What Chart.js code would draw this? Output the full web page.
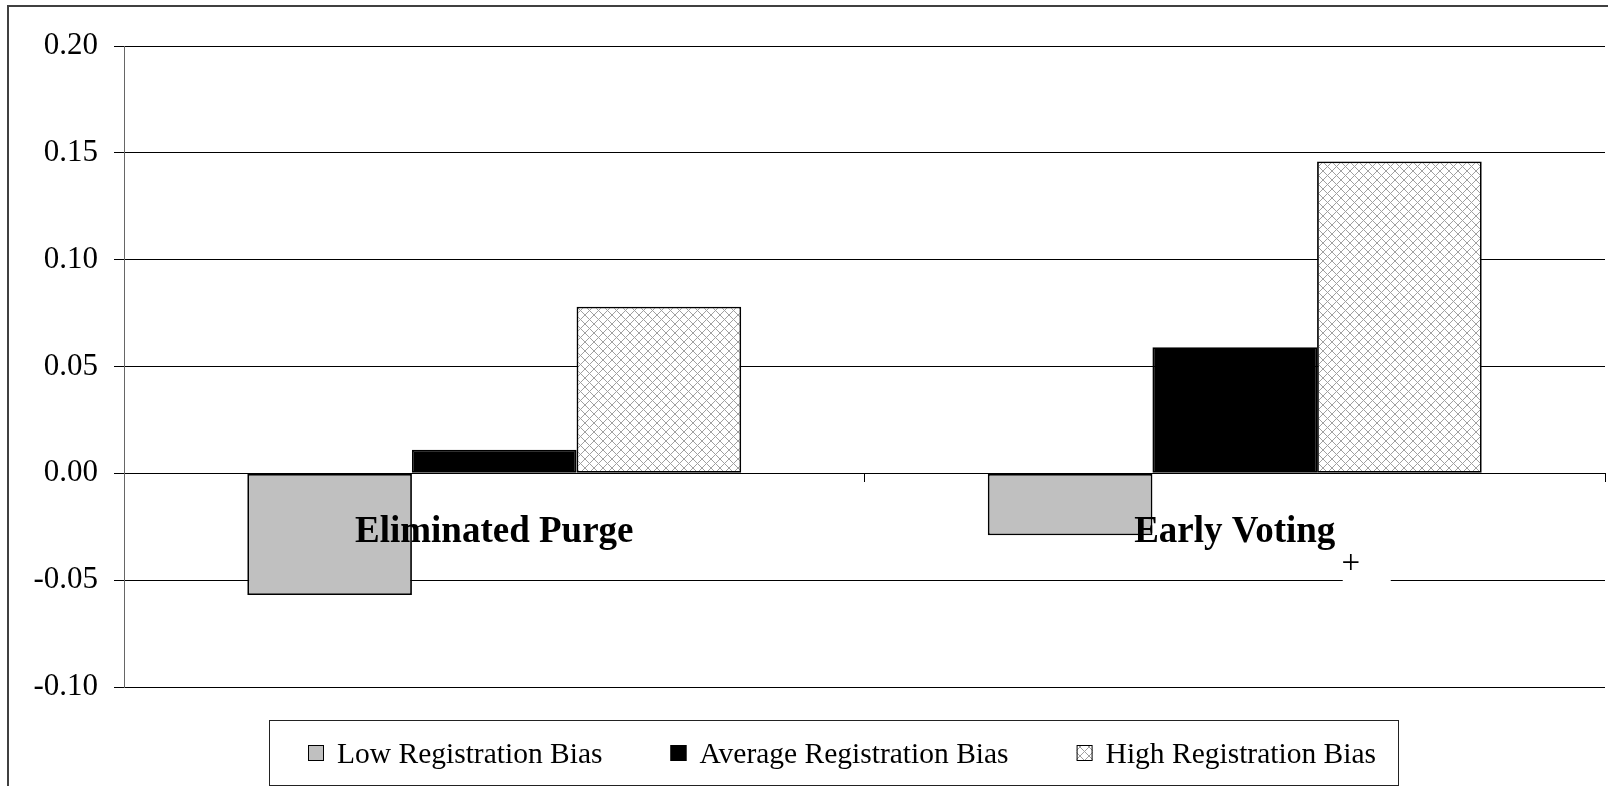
<!DOCTYPE html>
<html>
<head>
<meta charset="utf-8">
<title>Registration Bias</title>
<script src="https://cdn.jsdelivr.net/npm/chart.js@4.4.0/dist/chart.umd.min.js"></script>
<style>
  html, body { margin: 0; padding: 0; background: #fff; }
  #grafico { display: block; }
</style>
</head>
<body>
<canvas id="grafico" width="1608" height="786"></canvas>
<script>
// dados
const categorias = ['Eliminated Purge', 'Early Voting']
const nomesSeries = ['Low Registration Bias', 'Average Registration Bias', 'High Registration Bias']
const valoresBaixo = [-0.057, -0.029]
const valoresMedio = [0.011, 0.059]
const valoresAlto = [0.078, 0.146]
const ticksY = [-0.10, -0.05, 0.00, 0.05, 0.10, 0.15, 0.20]

const fonte = "'Liberation Serif', 'Times New Roman', serif"

// padrao quadriculado para a serie "High"
function criaHachura() {
  const c = document.createElement('canvas')
  c.width = 9
  c.height = 9
  const g = c.getContext('2d')
  g.fillStyle = '#fff'
  g.fillRect(0, 0, 9, 9)
  g.strokeStyle = '#a0a0a0'
  g.lineWidth = 1
  g.beginPath()
  g.moveTo(0, 0); g.lineTo(9, 9)
  g.moveTo(9, 0); g.lineTo(0, 9)
  g.stroke()
  return g.createPattern(c, 'repeat')
}
const hachura = criaHachura()

const cores = ['#c0c0c0', '#000000', hachura]

// moldura externa, legenda com caixa e o "+" solto perto de -0.05
const extras = {
  id: 'extras',
  beforeDraw(chart) {
    const ctx = chart.ctx
    ctx.save()
    ctx.strokeStyle = '#404040'
    ctx.lineWidth = 2
    ctx.strokeRect(8, 6, 1700, 900)
    ctx.restore()
  },
  afterDraw(chart) {
    const ctx = chart.ctx
    const x = chart.scales.x
    const y = chart.scales.y
    ctx.save()

    // buraco na linha de -0.05 e o sinal de +
    const yLinha = y.getPixelForValue(-0.05)
    const xBuraco = x.getPixelForValue(1) + 108
    ctx.fillStyle = '#fff'
    ctx.fillRect(xBuraco, yLinha - 2, 48, 4)
    ctx.fillStyle = '#000'
    ctx.font = '33px ' + fonte
    ctx.textAlign = 'center'
    ctx.textBaseline = 'middle'
    ctx.fillText('+', xBuraco + 8, yLinha - 16)

    // legenda
    ctx.strokeStyle = '#222'
    ctx.lineWidth = 1
    ctx.strokeRect(269.5, 720.5, 1129, 65)
    ctx.font = '29.5px ' + fonte
    ctx.textAlign = 'left'
    ctx.textBaseline = 'alphabetic'
    let px = 308
    chart.data.datasets.forEach((ds) => {
      ctx.fillStyle = ds.backgroundColor
      ctx.fillRect(px, 745, 16, 16)
      ctx.strokeStyle = '#000'
      ctx.strokeRect(px + 0.5, 745.5, 15, 15)
      ctx.fillStyle = '#000'
      ctx.fillText(ds.label, px + 29, 763)
      px = px + 29 + ctx.measureText(ds.label).width + 68
    })
    ctx.restore()
  }
}

const grafico = new Chart(document.getElementById('grafico'), {
  type: 'bar',
  data: {
    labels: categorias,
    datasets: [
      { label: nomesSeries[0], data: valoresBaixo, backgroundColor: cores[0] },
      { label: nomesSeries[1], data: valoresMedio, backgroundColor: cores[1] },
      { label: nomesSeries[2], data: valoresAlto, backgroundColor: cores[2] }
    ]
  },
  options: {
    responsive: false,
    animation: false,
    devicePixelRatio: 1,
    layout: { padding: { top: 46, right: 3, bottom: 99, left: 0 } },
    datasets: {
      bar: {
        categoryPercentage: 0.667,
        barPercentage: 1,
        borderColor: '#000',
        borderWidth: 1.8,
        borderSkipped: false
      }
    },
    plugins: {
      legend: { display: false },
      tooltip: { enabled: false }
    },
    scales: {
      x: {
        position: { y: 0 },
        grid: { display: true, drawOnChartArea: false, tickLength: 8, color: '#000' },
        border: { display: true, color: '#000', width: 1 },
        ticks: {
          z: 1, // rotulos por cima das barras, como no original
          color: '#000',
          padding: 29,
          font: { family: fonte, size: 37, weight: 'bold' }
        }
      },
      y: {
        min: ticksY[0],
        max: ticksY[ticksY.length - 1],
        afterBuildTicks: (s) => { s.ticks = ticksY.map((v) => ({ value: v })) },
        afterFit: (s) => { s.width = 124 },
        grid: { color: '#000', lineWidth: 1, tickLength: 10 },
        border: { display: true, color: '#666', width: 1 },
        ticks: {
          color: '#000',
          padding: 16,
          font: { family: fonte, size: 31 },
          callback: (v) => (Math.abs(v) < 1e-9 ? 0 : v).toFixed(2)
        }
      }
    }
  },
  plugins: [extras]
})
</script>
</body>
</html>
